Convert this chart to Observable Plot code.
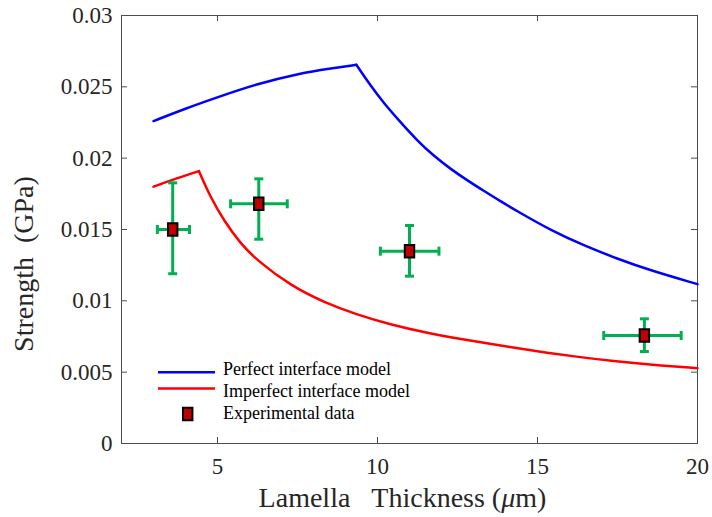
<!DOCTYPE html>
<html><head><meta charset="utf-8">
<script src="https://cdn.jsdelivr.net/npm/d3@7"></script>
<script src="https://cdn.jsdelivr.net/npm/@observablehq/plot@0.6"></script>
<style>body{margin:0;background:#fff} #chart{width:712px;height:517px}
#chart svg, #chart svg text{font-family:'Liberation Serif','Times New Roman',serif}</style>
</head><body><div id="chart"></div>
<script>
// ---- data ----
const perfectRiseX = [3.0, 4.0, 5.0, 6.24, 7.59, 8.5, 9.34];
const perfectRiseY = [0.0226, 0.02348, 0.02427, 0.02521, 0.02596, 0.02628, 0.02654];
const perfectFallX = [9.34, 9.78, 10.2, 10.72, 11.24, 11.76, 12.28, 12.8, 13.32, 13.84, 14.37, 15.41, 16.45, 17.49, 18.53, 20.0];
const perfectFallY = [0.02654, 0.02509, 0.02385, 0.02252, 0.02124, 0.02015, 0.01925, 0.01845, 0.01771, 0.01698, 0.01628, 0.01495, 0.01388, 0.01295, 0.01213, 0.01117];
const imperfectRiseX = [3.0, 3.7, 4.42];
const imperfectRiseY = [0.0180, 0.01857, 0.01909];
const imperfectFallX = [4.42, 4.78, 5.2, 5.72, 6.24, 7.28, 8.32, 9.37, 10.41, 11.45, 12.49, 14.26, 15.3, 16.34, 17.38, 18.43, 20.0];
const imperfectFallY = [0.01909, 0.01726, 0.01563, 0.0140, 0.01283, 0.01107, 0.0099, 0.00902, 0.00834, 0.0078, 0.00736, 0.00671, 0.00636, 0.00605, 0.00577, 0.00554, 0.00528];

const expX = [3.60, 6.29, 11.0, 18.34];
const expY = [0.0150, 0.0168, 0.01348, 0.00757];
const expXLow = [3.12, 5.41, 10.09, 17.07];
const expXHigh = [4.125, 7.18, 11.92, 19.49];
const expYLow = [0.0119, 0.01432, 0.01173, 0.00645];
const expYHigh = [0.01827, 0.01855, 0.01528, 0.00874];

const xTicks = [5, 10, 15, 20];
const yTicks = [0, 0.005, 0.01, 0.015, 0.02, 0.025, 0.03];
const yTickLabels = ["0", "0.005", "0.01", "0.015", "0.02", "0.025", "0.03"];
const seriesNames = ["Perfect interface model", "Imperfect interface model", "Experimental data"];

// ---- build tables ----
const seg = (xs, ys, name) => xs.map((x, i) => ({x, y: ys[i], seg: name}));
const perfectRows = [...seg(perfectRiseX, perfectRiseY, "rise"), ...seg(perfectFallX, perfectFallY, "fall")];
const imperfectRows = [...seg(imperfectRiseX, imperfectRiseY, "rise"), ...seg(imperfectFallX, imperfectFallY, "fall")];
const expRows = expX.map((x, i) => ({x, y: expY[i], xlo: expXLow[i], xhi: expXHigh[i], ylo: expYLow[i], yhi: expYHigh[i]}));

const capH = {draw(ctx, size) { const r = Math.sqrt(size / Math.PI); ctx.moveTo(-r, 0); ctx.lineTo(r, 0); }};
const capV = {draw(ctx, size) { const r = Math.sqrt(size / Math.PI); ctx.moveTo(0, -r); ctx.lineTo(0, r); }};
const rectSym = {draw(ctx, size) { const r = Math.sqrt(size / Math.PI); ctx.rect(-0.75 * r, -r, 1.5 * r, 2 * r); }};

const GREEN = "#00b050", BLUE = "#0000ff", RED = "#ff0000", DARKRED = "#c00000", AX = "#4d4d4d";
const FONT = "'Liberation Serif', 'Times New Roman', serif";

const chart = Plot.plot({
  width: 712, height: 517,
  marginLeft: 121, marginRight: 15, marginTop: 15, marginBottom: 74,
  x: {domain: [2, 20]},
  y: {domain: [0, 0.03]},
  style: {fontFamily: FONT, background: "#fff", overflow: "visible"},
  marks: [
    Plot.frame({stroke: AX, strokeWidth: 1}),
    Plot.ruleX(xTicks, {x: d => d, insetTop: 422, stroke: AX}),
    Plot.ruleX(xTicks, {x: d => d, insetBottom: 422, stroke: AX}),
    Plot.ruleY(yTicks, {y: d => d, insetRight: 570, stroke: AX}),
    Plot.ruleY(yTicks, {y: d => d, insetLeft: 570, stroke: AX}),
    Plot.axisX(xTicks, {tickSize: 0, tickPadding: 14, fontSize: 23, fontFamily: FONT, fill: "#262626", label: null}),
    Plot.axisY(yTicks, {tickSize: 0, tickPadding: 9, fontSize: 23, fontFamily: FONT, fill: "#262626", label: null,
      tickFormat: d => yTickLabels[yTicks.indexOf(d)]}),
    Plot.line(perfectRows, {x: "x", y: "y", z: "seg", stroke: BLUE, strokeWidth: 2.5, curve: "basis"}),
    Plot.line(imperfectRows, {x: "x", y: "y", z: "seg", stroke: RED, strokeWidth: 2.5, curve: "basis"}),
    Plot.ruleX(expRows, {x: "x", y1: "ylo", y2: "yhi", stroke: GREEN, strokeWidth: 3}),
    Plot.ruleY(expRows, {y: "y", x1: "xlo", x2: "xhi", stroke: GREEN, strokeWidth: 3}),
    Plot.dot(expRows, {x: "x", y: "ylo", symbol: capH, r: 4.5, stroke: GREEN, strokeWidth: 3, fill: "none"}),
    Plot.dot(expRows, {x: "x", y: "yhi", symbol: capH, r: 4.5, stroke: GREEN, strokeWidth: 3, fill: "none"}),
    Plot.dot(expRows, {x: "xlo", y: "y", symbol: capV, r: 4.5, stroke: GREEN, strokeWidth: 3, fill: "none"}),
    Plot.dot(expRows, {x: "xhi", y: "y", symbol: capV, r: 4.5, stroke: GREEN, strokeWidth: 3, fill: "none"}),
    Plot.dot(expRows, {x: "x", y: "y", symbol: rectSym, r: 6.3, fill: DARKRED, stroke: "#000", strokeWidth: 2})
  ]
});

const svg = d3.select(chart);
// legend
const lg = svg.append("g").attr("font-family", FONT).attr("font-size", 18).attr("fill", "#000").attr("text-anchor", "start");
const rowY = [368.5, 390.5, 412.5];
lg.append("line").attr("x1", 158).attr("x2", 215).attr("y1", 372.3).attr("y2", 372.3).attr("stroke", BLUE).attr("stroke-width", 2.5);
lg.append("line").attr("x1", 158).attr("x2", 215).attr("y1", 388.5).attr("y2", 388.5).attr("stroke", RED).attr("stroke-width", 2.5);
lg.append("path").attr("d", d3.symbol(rectSym, Math.PI * 6.3 * 6.3)()).attr("transform", "translate(187.7,414)")
  .attr("fill", DARKRED).attr("stroke", "#000").attr("stroke-width", 2);
seriesNames.forEach((name, i) => {
  lg.append("text").attr("x", 223).attr("y", rowY[i]).attr("dy", "0.35em").attr("text-anchor", "start").text(name);
});
// axis titles
const xl = svg.append("text").attr("x", 402.5).attr("y", 506.7).attr("text-anchor", "middle")
  .attr("font-family", FONT).attr("font-size", 28).attr("fill", "#262626");
xl.append("tspan").text("Lamella\u00a0\u00a0\u00a0Thickness (");
xl.append("tspan").attr("font-style", "italic").text("\u03bc");
xl.append("tspan").text("m)");
svg.append("text").attr("transform", "translate(33,264) rotate(-90)").attr("text-anchor", "middle")
  .attr("font-family", FONT).attr("font-size", 28).attr("fill", "#262626")
  .text("Strength\u00a0\u00a0(GPa)");

document.getElementById("chart").appendChild(chart);
</script>
</body></html>
